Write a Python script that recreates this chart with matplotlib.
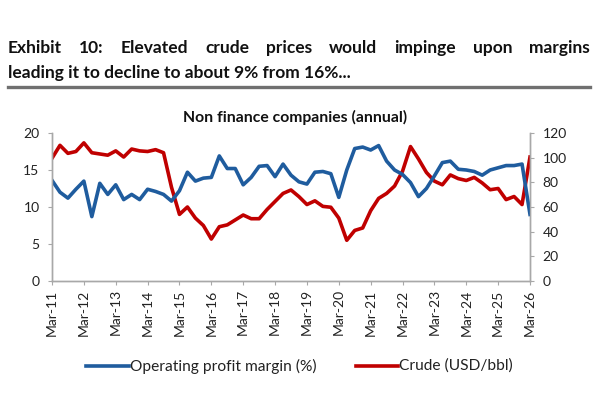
import numpy as np
import matplotlib.pyplot as plt

# quarterly values, Mar-11 .. Mar-26
margin = [13.6, 12.0, 11.2, 12.4, 13.5, 8.7, 13.2, 11.7, 13.0, 11.0,
          11.7, 11.0, 12.4, 12.1, 11.7, 10.8, 12.2, 14.7, 13.5, 13.9,
          14.0, 16.9, 15.2, 15.2, 13.0, 14.0, 15.5, 15.6, 14.1, 15.8,
          14.3, 13.4, 13.1, 14.7, 14.8, 14.5, 11.3, 15.0, 17.9, 18.1,
          17.7, 18.3, 16.2, 15.0, 14.4, 13.3, 11.4, 12.5, 14.2, 16.0,
          16.2, 15.1, 15.0, 14.8, 14.3, 15.0, 15.3, 15.6, 15.6, 15.8,
          9.0]
crude = [99.5, 110, 103.5, 105, 112, 104, 103, 102, 105.5, 100.5,
         107, 105.5, 105, 106.5, 104, 76, 54, 60, 51, 45,
         34, 44, 45.5, 49.5, 53.5, 50.5, 50.5, 58, 64.5, 71,
         73.8, 68.4, 62, 65, 60.5, 59.8, 51, 33, 41, 43,
         57, 67, 71, 77, 89, 109, 99, 88, 81, 78,
         86, 83, 81.5, 84, 79.5, 74, 75, 66, 68.5, 62,
         100.5]
xlabels = ['Mar-11', 'Mar-12', 'Mar-13', 'Mar-14', 'Mar-15', 'Mar-16',
           'Mar-17', 'Mar-18', 'Mar-19', 'Mar-20', 'Mar-21', 'Mar-22',
           'Mar-23', 'Mar-24', 'Mar-25', 'Mar-26']

plt.rcParams['font.family'] = ['Lato', 'DejaVu Sans']

blue = '#1f5c9e'
red = '#c00000'
grey = '#a8a8a8'

fig = plt.figure(figsize=(6, 3.94), dpi=100)
W, H = 600, 394

def fx(px):
    return px / W

def fy(py):
    return 1 - py / H

ax = fig.add_axes([fx(52), fy(281), fx(530) - fx(52), fy(133) - fy(281)])
ax2 = ax.twinx()

q = np.arange(len(margin))
ax.plot(q, margin, color=blue, lw=2.6, solid_joinstyle='round')
ax2.plot(q, crude, color=red, lw=2.6, solid_joinstyle='round')

ax.set_xlim(0, len(margin) - 1)
ax.set_ylim(0, 20)
ax2.set_ylim(0, 120)
ax.set_yticks(range(0, 21, 5))
ax2.set_yticks(range(0, 121, 20))
ax.set_xticks(range(0, len(margin), 4))
ax.set_xticklabels(xlabels, rotation=90)

for a in (ax, ax2):
    a.spines['top'].set_visible(False)
    for s in ('left', 'right', 'bottom'):
        a.spines[s].set_color(grey)
        a.spines[s].set_linewidth(1.0)
    a.tick_params(colors=grey, labelcolor='#222222', labelsize=10,
                  length=3, width=0.8)
ax.tick_params(axis='y', pad=6)
ax2.tick_params(axis='y', pad=6)
ax.tick_params(axis='x', pad=3)
ax.set_zorder(ax2.get_zorder() + 1)
ax.patch.set_visible(False)

# legend
fig.add_artist(plt.Line2D([fx(86), fx(129)], [fy(366), fy(366)], color=blue, lw=2.6))
fig.text(fx(130), fy(366), 'Operating profit margin (%)', fontsize=11.2,
         va='center', color='#222222')
fig.add_artist(plt.Line2D([fx(356), fx(398)], [fy(366), fy(366)], color=red, lw=2.6))
fig.text(fx(399), fy(366), 'Crude (USD/bbl)', fontsize=11.2,
         va='center', color='#222222')

fig.text(fx(295), fy(117), 'Non finance companies (annual)', fontsize=11.3,
         fontweight='bold', ha='center', va='center', color='#111111')

# title, first line justified
r = fig.canvas.get_renderer()
line1 = ['Exhibit', '10:', 'Elevated', 'crude', 'prices', 'would', 'impinge',
         'upon', 'margins']
tsize = 12.5
words = []
for w in line1:
    t = fig.text(0, fy(53), w, fontsize=tsize, fontweight='bold', color='#111111')
    words.append(t)
widths = [t.get_window_extent(r).width for t in words]
gap = (582 - sum(widths)) / (len(words) - 1)
x = 8
for t, wd in zip(words, widths):
    t.set_x(fx(x))
    x += wd + gap
fig.text(fx(8), fy(78), 'leading it to decline to about 9% from 16%...',
         fontsize=tsize, fontweight='bold', color='#111111')
fig.add_artist(plt.Line2D([fx(8), fx(590)], [fy(87), fy(87)], color='#707070', lw=2.4))

fig.savefig('out.png', dpi=100)
